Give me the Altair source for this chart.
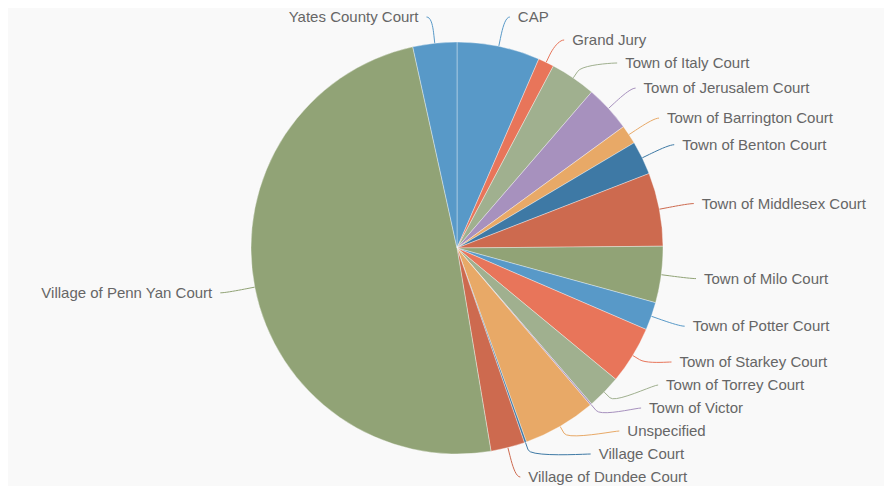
import altair as alt
import pandas as pd

categories = [
    "CAP", "Grand Jury", "Town of Italy Court", "Town of Jerusalem Court",
    "Town of Barrington Court", "Town of Benton Court", "Town of Middlesex Court",
    "Town of Milo Court", "Town of Potter Court", "Town of Starkey Court",
    "Town of Torrey Court", "Town of Victor", "Unspecified", "Village Court",
    "Village of Dundee Court", "Village of Penn Yan Court", "Yates County Court",
]
values = [23.4, 4.5, 12.9, 13.1, 5.4, 9.5, 20.7, 15.9, 7.9, 16.3, 9.6, 0.45,
          20.65, 0.6, 9.6, 177.1, 12.4]
palette = ["#5899C8", "#E8755A", "#A0B08F", "#A791BE", "#E8A967", "#3E79A5",
           "#CD6A4F", "#91A376"]
colors = [palette[i % len(palette)] for i in range(len(categories))]

df = pd.DataFrame({"category": categories, "value": values,
                   "o": list(range(len(categories)))})

W, H = 876, 478
CX, CY = 449, 240
R_PIE = 206
R_LAB = 236
R_FIT = 250
R_B = 214
G = 23
YMIN, YMAX = -231, 229
PAD = 13
GAP = 8

xs = alt.Scale(domain=[-CX, W - CX], nice=False, zero=False)
ys = alt.Scale(domain=[-CY, H - CY], nice=False, zero=False, reverse=True)
color = alt.Color("category:N", scale=alt.Scale(domain=categories, range=colors),
                  legend=None)

base = alt.Chart(df)

pie = base.mark_arc(radius=R_PIE, stroke="#ffffff", strokeWidth=0.6,
                    strokeOpacity=0.6).encode(
    theta=alt.Theta("value:Q", stack=True),
    order=alt.Order("o:Q"),
    color=color,
    x=alt.value(CX),
    y=alt.value(CY),
)

lab = (
    base.transform_joinaggregate(total="sum(value)")
    .transform_window(cum="sum(value)", sort=[alt.SortField("o")], frame=[None, 0])
    .transform_calculate(mid="(datum.cum - datum.value/2)/datum.total*2*PI")
    .transform_calculate(
        side="datum.mid < PI ? 1 : -1",
        sx="sin(datum.mid)",
        cyv="-cos(datum.mid)",
    )
    .transform_calculate(yn=f"{R_LAB}*datum.cyv")
    .transform_window(idx0="row_number()", groupby=["side"],
                      sort=[alt.SortField("yn")])
    .transform_calculate(idx="datum.idx0 - 1")
    .transform_calculate(t1=f"datum.yn - datum.idx*{G}")
    .transform_window(tmax="max(t1)", groupby=["side"],
                      sort=[alt.SortField("idx")], frame=[None, 0])
    .transform_calculate(yf=f"max(datum.tmax, {YMIN}) + datum.idx*{G}")
    .transform_calculate(u=f"datum.yf - datum.idx*{G}")
    .transform_window(umin="min(u)", groupby=["side"],
                      sort=[alt.SortField("idx")], frame=[0, None])
    .transform_joinaggregate(n="count()", groupby=["side"])
    .transform_calculate(
        yb=f"min(datum.umin + datum.idx*{G}, {YMAX} - (datum.n - 1 - datum.idx)*{G})")
    .transform_calculate(
        dxl=f"abs(datum.yb - datum.yn) > 8 ? sqrt(max({R_FIT}*{R_FIT} - datum.yb*datum.yb, 0))"
            f" : {R_LAB}*abs(datum.sx) + {PAD}")
    .transform_calculate(
        tx="datum.side*datum.dxl",
        lx=f"datum.side*(datum.dxl - {GAP})",
    )
)

text_style = dict(baseline="middle", fontSize=15, font="Liberation Sans",
                  color="#666666")

right_text = lab.transform_filter("datum.side > 0").mark_text(
    align="left", **text_style).encode(
    x=alt.X("tx:Q", scale=xs, axis=None),
    y=alt.Y("yb:Q", scale=ys, axis=None),
    text="category:N",
)
left_text = lab.transform_filter("datum.side < 0").mark_text(
    align="right", **text_style).encode(
    x=alt.X("tx:Q", scale=xs, axis=None),
    y=alt.Y("yb:Q", scale=ys, axis=None),
    text="category:N",
)

K = 2 * R_B - R_PIE
lines = (
    lab.transform_calculate(ts="sequence(0, 12)")
    .transform_flatten(["ts"])
    .transform_calculate(tt="min(datum.ts/10, 1)")
    .transform_calculate(
        c1x="datum.lx - datum.side*5",
        c2x=f"{K}*datum.sx", c2y=f"{K}*datum.cyv",
        bx=f"{R_B}*datum.sx", by=f"{R_B}*datum.cyv",
        ex=f"{R_PIE}*datum.sx", ey=f"{R_PIE}*datum.cyv",
    )
    .transform_calculate(
        px="datum.ts > 10 ? datum.ex : pow(1-datum.tt,3)*datum.lx + 3*pow(1-datum.tt,2)*datum.tt*datum.c1x + 3*(1-datum.tt)*pow(datum.tt,2)*datum.c2x + pow(datum.tt,3)*datum.bx",
        py="datum.ts > 10 ? datum.ey : pow(1-datum.tt,3)*datum.yb + 3*pow(1-datum.tt,2)*datum.tt*datum.yb + 3*(1-datum.tt)*pow(datum.tt,2)*datum.c2y + pow(datum.tt,3)*datum.by",
    )
    .mark_line(strokeWidth=1)
    .encode(
        x=alt.X("px:Q", scale=xs, axis=None),
        y=alt.Y("py:Q", scale=ys, axis=None),
        color=color,
        detail="category:N",
        order=alt.Order("ts:Q"),
    )
)

chart = (
    alt.layer(lines, pie, right_text, left_text)
    .properties(width=W, height=H, background="#f9f9f9", padding=0,
                autosize=alt.AutoSizeParams(type="none"))
    .configure_view(strokeWidth=0)
)

chart.save("out.html", embed_options={"renderer": "svg", "actions": False})
